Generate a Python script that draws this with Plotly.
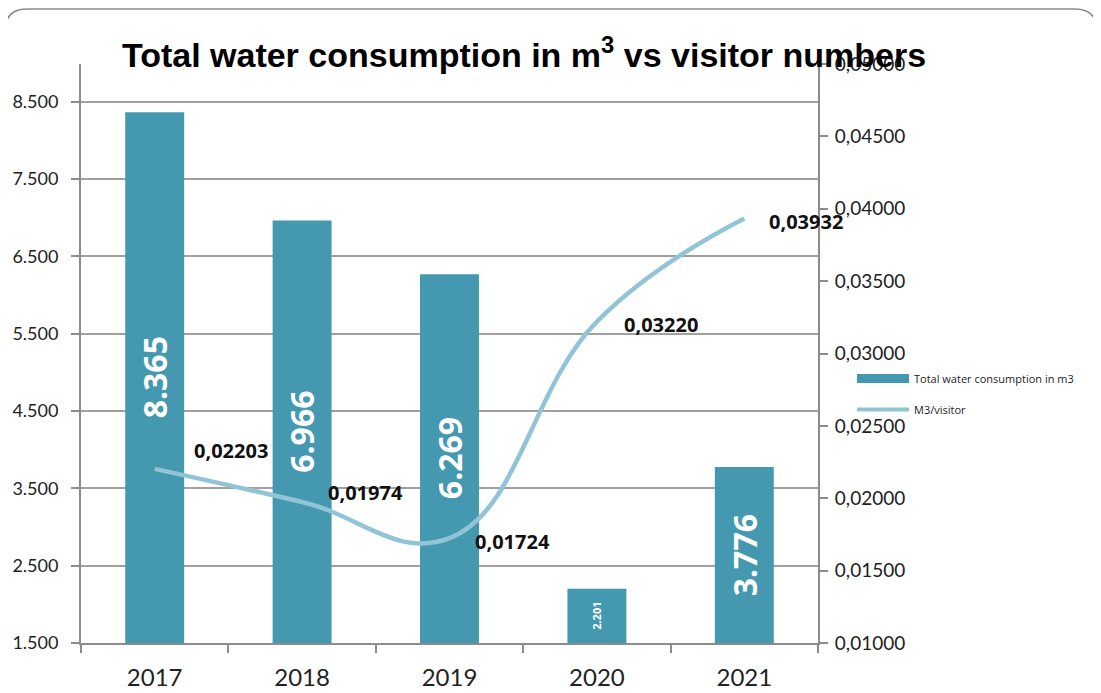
import plotly.graph_objects as go

years = ["2017", "2018", "2019", "2020", "2021"]
water_m3 = [8365, 6966, 6269, 2201, 3776]
m3_per_visitor = [0.02203, 0.01974, 0.01724, 0.03220, 0.03932]
left_ticks = [1500, 2500, 3500, 4500, 5500, 6500, 7500, 8500]
right_ticks = [0.010, 0.015, 0.020, 0.025, 0.030, 0.035, 0.040, 0.045, 0.050]

BAR_COLOR = "#4499B0"
LINE_COLOR = "#92C4D8"
AXIS_COLOR = "#8C8C8C"

OFF = 8  # page body margin
W, H = 1101 - OFF, 693 - OFF
L, R, T, B = 81 - OFF, 818 - OFF, 64 - OFF, 643 - OFF
Y_MIN, Y_MAX = 1500, 8990


def px(x):
    return (x - OFF - L) / (R - L)


def py(y):
    return (B - (y - OFF)) / (B - T)


fig = go.Figure()

fig.add_trace(go.Bar(
    x=years, y=water_m3, name="Total water consumption in m3",
    marker=dict(color=BAR_COLOR, line=dict(width=0)),
    showlegend=False, yaxis="y", hoverinfo="x+y",
))

fig.add_trace(go.Scatter(
    x=years, y=m3_per_visitor, name="M3/visitor", mode="lines",
    line=dict(color=LINE_COLOR, width=4.5, shape="spline", smoothing=1.2),
    yaxis="y2", showlegend=False,
))

# legend entries
fig.add_trace(go.Scatter(x=years[:1], y=[None], mode="lines", name="Total water consumption in m3",
                         line=dict(color=BAR_COLOR, width=9), yaxis="y2", legendgroup="a",
                         hoverinfo="skip"))
fig.add_trace(go.Scatter(x=years[:1], y=[None], mode="lines", name="M3/visitor",
                         line=dict(color=LINE_COLOR, width=4), yaxis="y2", legendgroup="b",
                         hoverinfo="skip"))

annotations = []

# bar value labels (rotated, centred in each bar)
bar_label_sizes = [32, 32, 32, 11, 32]
for i, (v, fs) in enumerate(zip(water_m3, bar_label_sizes)):
    annotations.append(dict(
        x=i, y=(Y_MIN + v) / 2, xref="x", yref="y",
        text="<b>" + f"{v:,}".replace(",", ".") + "</b>",
        textangle=-90, showarrow=False, xanchor="center", yanchor="middle",
        font=dict(family="Open Sans", size=fs, color="white"),
    ))

# line value labels
label_shifts = [(37, 18), (24, 10), (23, -3), (25, -3), (23, -3)]
for i, (v, (dx, dy)) in enumerate(zip(m3_per_visitor, label_shifts)):
    annotations.append(dict(
        x=i, y=v, xref="x", yref="y2", text="<b>" + f"{v:.5f}".replace(".", ",") + "</b>",
        showarrow=False, xanchor="left", yanchor="middle", xshift=dx, yshift=dy,
        font=dict(family="Open Sans", size=20, color="#111111"),
    ))

# rounded frame
x0, x1, y0, y1, r = 5, 1097, 9, 720, 22
path = (f"M {px(x0)},{py(y1)} L {px(x0)},{py(y0 + r)} "
        f"Q {px(x0)},{py(y0)} {px(x0 + r)},{py(y0)} "
        f"L {px(x1 - r)},{py(y0)} Q {px(x1)},{py(y0)} {px(x1)},{py(y0 + r)} "
        f"L {px(x1)},{py(y1)}")

fig.update_layout(
    width=W, height=H,
    margin=dict(l=L, r=W - R, t=T, b=H - B, autoexpand=False),
    paper_bgcolor="white", plot_bgcolor="white",
    separators=",.",
    title=dict(text="<b>Total water consumption in m<sup>3</sup> vs visitor numbers</b>",
               x=(524 - OFF) / W, xanchor="center", xref="container",
               y=1 - (55 - OFF) / H, yanchor="middle", yref="container",
               font=dict(family="Liberation Sans", size=34, color="black")),
    bargap=0.6,
    xaxis=dict(type="category", categoryorder="array", categoryarray=years,
               range=[-0.5, len(years) - 0.5], autorange=False,
               showgrid=False, showline=True, linecolor=AXIS_COLOR, linewidth=2,
               ticks="outside", tickson="boundaries", ticklen=8, tickcolor=AXIS_COLOR, tickwidth=2,
               tickangle=0, automargin=False, ticklabelstandoff=12,
               tickfont=dict(family="Lato", size=24, color="#222222")),
    yaxis=dict(range=[Y_MIN, Y_MAX], autorange=False, tickvals=left_ticks, tickformat=",.0f",
               showgrid=True, gridcolor="#A0A0A0", gridwidth=2, automargin=False,
               showline=True, linecolor=AXIS_COLOR, linewidth=2,
               ticks="outside", ticklen=8, tickcolor=AXIS_COLOR, tickwidth=2,
               ticklabelstandoff=9,
               tickfont=dict(family="Lato", size=18, color="#222222"), zeroline=False),
    yaxis2=dict(range=[0.010, 0.050], autorange=False, tickvals=right_ticks, tickformat=".5f",
                overlaying="y", side="right", showgrid=False, automargin=False,
                showline=True, linecolor=AXIS_COLOR, linewidth=2,
                ticks="outside", ticklen=8, tickcolor=AXIS_COLOR, tickwidth=2,
                ticklabelstandoff=3,
                tickfont=dict(family="Lato", size=19, color="#222222"), zeroline=False),
    legend=dict(x=px(852), y=py(364), xanchor="left", yanchor="top",
                font=dict(family="Open Sans", size=11, color="#222222"),
                itemwidth=52, tracegroupgap=12, bgcolor="rgba(0,0,0,0)"),
    annotations=annotations,
    shapes=[dict(type="path", path=path, xref="paper", yref="paper",
                 line=dict(color="#8A8A8A", width=1.5), layer="above")],
)

fig.write_html("out.html")
